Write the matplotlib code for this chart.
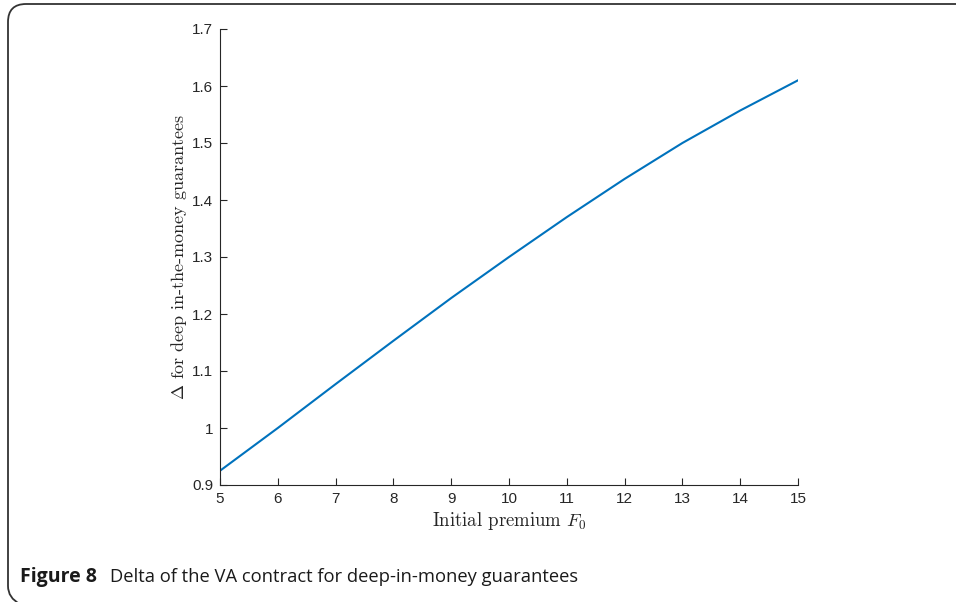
import numpy as np
import matplotlib
matplotlib.use("Agg")
import matplotlib.pyplot as plt
from matplotlib.path import Path
from matplotlib.patches import PathPatch

# initial premium F0 and delta
premium = [5, 6, 7, 8, 9, 10, 11, 12, 13, 14, 15]
delta = [0.925, 1.000, 1.077, 1.153, 1.228, 1.300, 1.370, 1.437, 1.500, 1.557, 1.610]

xticks = [5, 6, 7, 8, 9, 10, 11, 12, 13, 14, 15]
yticks = [0.9, 1.0, 1.1, 1.2, 1.3, 1.4, 1.5, 1.6, 1.7]
ytick_labels = ["0.9", "1", "1.1", "1.2", "1.3", "1.4", "1.5", "1.6", "1.7"]

plt.rcParams["mathtext.fontset"] = "cm"
plt.rcParams["axes.unicode_minus"] = False
W, H = 956, 602
fig = plt.figure(figsize=(W / 100, H / 100), dpi=100)

ax = fig.add_axes([220 / W, 1 - 485 / H, (798 - 220) / W, (485 - 29) / H])
ax.plot(premium, delta, color="#0072BD", lw=1.5)
ax.set_xlim(5, 15)
ax.set_ylim(0.9, 1.7)
ax.set_xticks(xticks)
ax.set_yticks(yticks)
ax.set_yticklabels(ytick_labels)
for s in ["top", "right"]:
    ax.spines[s].set_visible(False)
for s in ["left", "bottom"]:
    ax.spines[s].set_color("#262626")
    ax.spines[s].set_linewidth(0.8)
ax.tick_params(direction="in", length=5, width=0.8, color="#262626",
               labelcolor="#262626", labelsize=11, pad=5)
for lab in ax.get_xticklabels() + ax.get_yticklabels():
    lab.set_family("Liberation Sans")

ax.set_xlabel(r"Initial premium $F_0$", fontsize=13.5, family="cmr10",
              color="#262626", labelpad=3)
ax.set_ylabel(r"$\Delta$ for deep in-the-money guarantees", fontsize=13,
              family="cmr10", color="#262626", labelpad=2)

# rounded frame (top and left edges)
r = 18
pts = [(W + 5, 4), (8 + r, 4), (8, 4), (8, 4 + r), (8, H - 16), (8, H - 4), (20, H + 2)]
codes = [Path.MOVETO, Path.LINETO, Path.CURVE3, Path.CURVE3, Path.LINETO, Path.CURVE3, Path.CURVE3]
verts = [(x / W, 1 - y / H) for x, y in pts]
fig.patches.append(PathPatch(Path(verts, codes), transform=fig.transFigure,
                             fill=False, edgecolor="#333333", lw=1.3))

fig.text(20 / W, 1 - 577 / H, "Figure 8", fontsize=14, fontweight="bold",
         family="Open Sans", va="center", ha="left", color="#1a1a1a")
fig.text(110 / W, 1 - 577 / H, "Delta of the VA contract for deep-in-money guarantees",
         fontsize=13.2, family="Open Sans", va="center", ha="left", color="#1a1a1a")

fig.savefig("out.png", dpi=100)
